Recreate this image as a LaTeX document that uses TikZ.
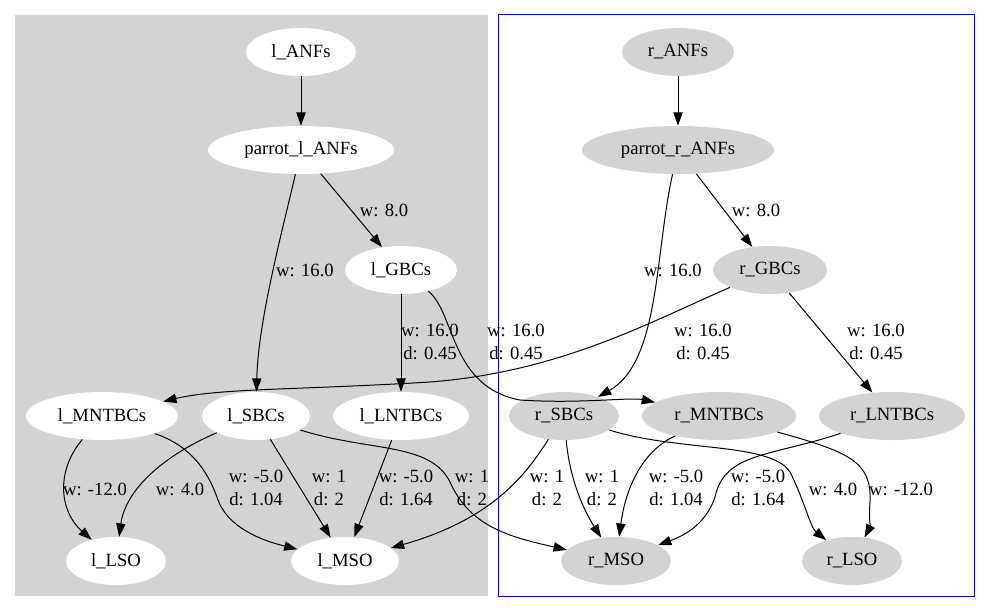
\documentclass[tikz,border=0pt]{standalone}
\usepackage{fontspec}
\setmainfont{Liberation Serif}
\usetikzlibrary{shapes.geometric,arrows.meta}
\definecolor{lgrey}{HTML}{D3D3D3}
\begin{document}
\begin{tikzpicture}[x=0.75pt,y=0.75pt,
  lnode/.style={ellipse, fill=white, inner sep=0pt, minimum height=36pt, font=\fontsize{14}{17}\selectfont},
  rnode/.style={lnode, fill=lgrey},
  lab/.style={inner sep=0pt, align=center, font=\fontsize{14}{17.25}\selectfont},
  conn/.style={line width=0.75pt, -{Triangle[length=10pt,width=7pt]}}]
\useasboundingbox (0,0) rectangle (991,612);
\fill[lgrey] (15,16) rectangle (488,597);
\draw[blue, line width=0.75pt] (498,16) rectangle (974,597);
% left nodes
\node[lnode, minimum width={1.5*55pt}] (lanf) at (301,560) {l\_ANFs};
\node[lnode, minimum width={1.5*93pt}] (planf) at (301,462) {parrot\_l\_ANFs};
\node[lnode, minimum width={1.5*56pt}] (lgbc) at (401,342) {l\_GBCs};
\node[lnode, minimum width={1.5*76pt}] (lmnt) at (102,196) {l\_MNTBCs};
\node[lnode, minimum width={1.5*54pt}] (lsbc) at (256,196) {l\_SBCs};
\node[lnode, minimum width={1.5*68pt}] (llnt) at (401,196) {l\_LNTBCs};
\node[lnode, minimum width={1.5*50pt}] (llso) at (116,51) {l\_LSO};
\node[lnode, minimum width={1.5*54pt}] (lmso) at (345,51) {l\_MSO};
% right nodes
\node[rnode, minimum width={1.5*56pt}] (ranf) at (678,560) {r\_ANFs};
\node[rnode, minimum width={1.5*96pt}] (pranf) at (678,462) {parrot\_r\_ANFs};
\node[rnode, minimum width={1.5*57pt}] (rgbc) at (770,342) {r\_GBCs};
\node[rnode, minimum width={1.5*55pt}] (rsbc) at (564,196) {r\_SBCs};
\node[rnode, minimum width={1.5*77pt}] (rmnt) at (719,196) {r\_MNTBCs};
\node[rnode, minimum width={1.5*73pt}] (rlnt) at (892,196) {r\_LNTBCs};
\node[rnode, minimum width={1.5*55pt}] (rmso) at (616,51) {r\_MSO};
\node[rnode, minimum width={1.5*50pt}] (rlso) at (852,51) {r\_LSO};
% upper edges
\draw[conn] (lanf) -- (planf);
\draw[conn] (planf) -- (lgbc);
\draw[conn] (planf) .. controls (282,380) and (258,290) .. (lsbc);
\draw[conn] (lgbc) -- (llnt);
\draw[conn] (lgbc) .. controls (455,300) and (450,225) .. (520,212) .. controls (580,208) and (630,215) .. (rmnt);
\draw[conn] (rgbc) .. controls (650,290) and (560,240) .. (430,230) .. controls (300,222) and (220,224) .. (lmnt);
\draw[conn] (ranf) -- (pranf);
\draw[conn] (pranf) -- (rgbc);
\draw[conn] (pranf) .. controls (655,360) and (660,250) .. (rsbc);
\draw[conn] (rgbc) -- (rlnt);
% lower edges
\draw[conn] (lmnt) .. controls (55,140) and (60,100) .. (llso);
\draw[conn] (lsbc) .. controls (160,155) and (125,120) .. (llso);
\draw[conn] (lmnt) .. controls (195,165) and (210,135) .. (218,112) .. controls (228,85) and (260,72) .. (lmso);
\draw[conn] (lsbc) -- (lmso);
\draw[conn] (llnt) -- (lmso);
\draw[conn] (lsbc) .. controls (370,160) and (430,170) .. (450,130) .. controls (470,85) and (510,75) .. (rmso);
\draw[conn] (rsbc) .. controls (530,145) and (500,95) .. (lmso);
\draw[conn] (rsbc) .. controls (570,130) and (585,100) .. (rmso);
\draw[conn] (rmnt) .. controls (640,160) and (625,120) .. (rmso);
\draw[conn] (rlnt) .. controls (770,155) and (725,160) .. (715,115) .. controls (705,85) and (680,75) .. (rmso);
\draw[conn] (rsbc) .. controls (680,160) and (770,170) .. (790,140) .. controls (805,110) and (810,85) .. (rlso);
\draw[conn] (rmnt) .. controls (850,160) and (872,150) .. (870,110) .. controls (869,95) and (870,85) .. (rlso);
% labels
\node[lab] (t1) at (384,402) {w: 8.0};
\node[lab] (t2) at (305,342) {w: 16.0};
\node[lab] (t3) at (430,270.5) {w: 16.0\\d: 0.45};
\node[lab] (t4) at (516,270.5) {w: 16.0\\d: 0.45};
\node[lab] (t5) at (756,402) {w: 8.0};
\node[lab] (t6) at (673,342) {w: 16.0};
\node[lab] (t7) at (703,270.5) {w: 16.0\\d: 0.45};
\node[lab] (t8) at (876,270.5) {w: 16.0\\d: 0.45};
\node[lab] (t9) at (95,123) {w: -12.0};
\node[lab] (t10) at (180,123) {w: 4.0};
\node[lab] (t11) at (256,124.5) {w: -5.0\\d: 1.04};
\node[lab] (t12) at (329,124.5) {w: 1\\d: 2};
\node[lab] (t13) at (406,124.5) {w: -5.0\\d: 1.64};
\node[lab] (t14) at (472,124.5) {w: 1\\d: 2};
\node[lab] (t15) at (547,124.5) {w: 1\\d: 2};
\node[lab] (t16) at (602,124.5) {w: 1\\d: 2};
\node[lab] (t17) at (676,124.5) {w: -5.0\\d: 1.04};
\node[lab] (t18) at (758,124.5) {w: -5.0\\d: 1.64};
\node[lab] (t19) at (833,123) {w: 4.0};
\node[lab] (t20) at (901,123) {w: -12.0};
\end{tikzpicture}
\end{document}
